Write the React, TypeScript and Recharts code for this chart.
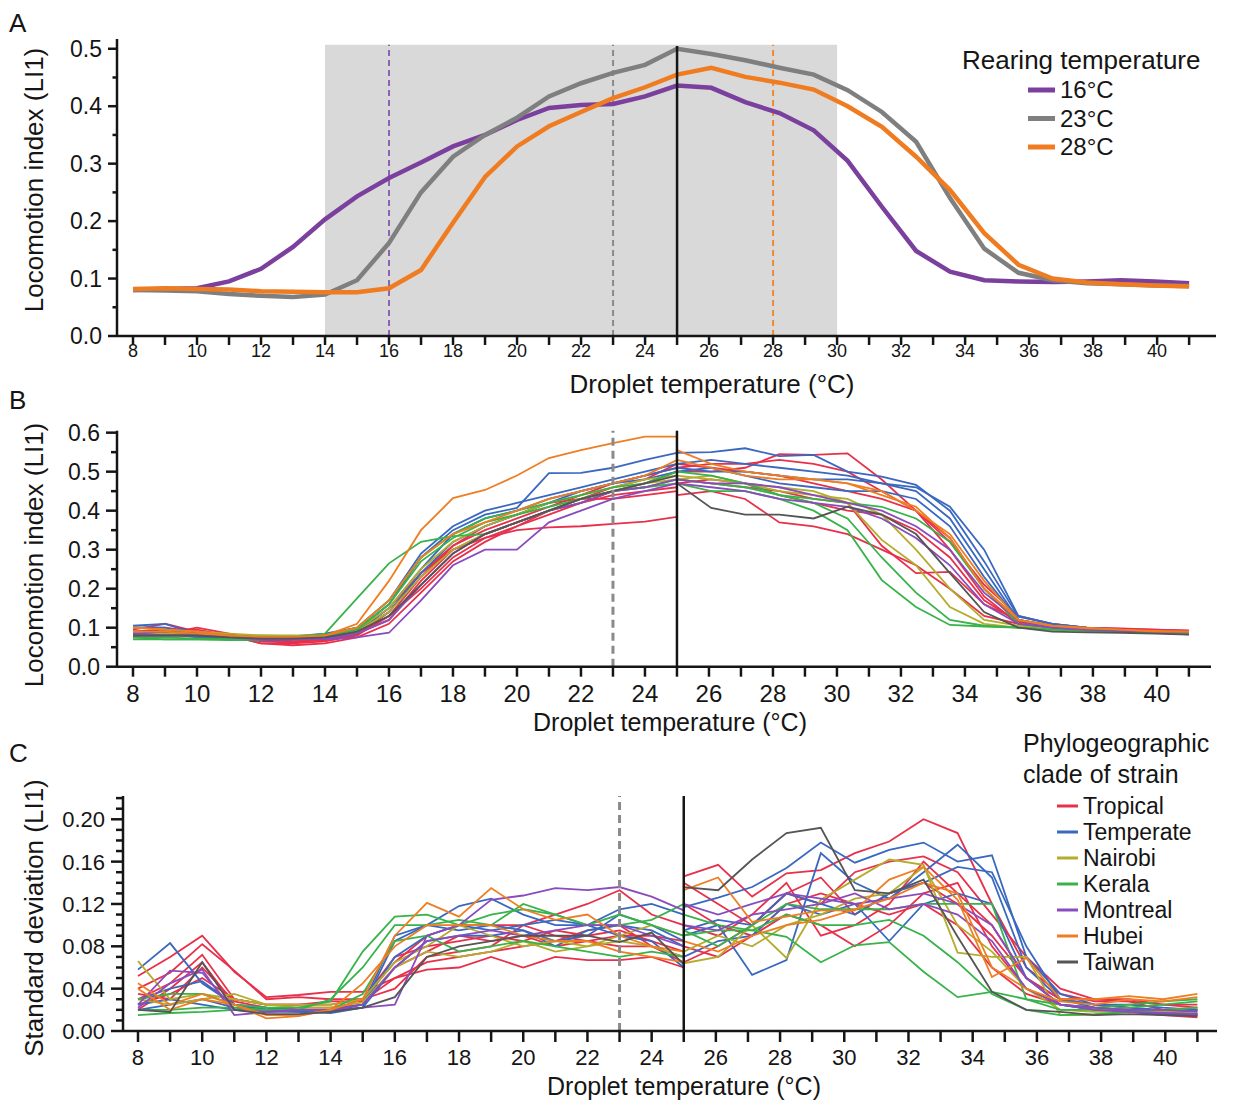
import React from "react";
import { LineChart, Line, XAxis, YAxis, ReferenceLine, ReferenceArea } from "recharts";

const FONT = '"Liberation Sans", Arial, Helvetica, sans-serif';
const INK = "#151515";

// ---- Panel A: mean LI1 per rearing temperature ----
const TEMPS = [
  8, 9, 10, 11, 12, 13, 14, 15, 16, 17, 18, 19, 20, 21, 22, 23, 24, 25,
  26.07, 27.13, 28.2, 29.27, 30.33, 31.4, 32.47, 33.53, 34.6, 35.67, 36.73, 37.8, 38.87, 39.93, 41,
];
const LI_16C = [
  0.08, 0.082, 0.083, 0.095, 0.117, 0.155, 0.203, 0.243, 0.275, 0.302, 0.33, 0.35, 0.376, 0.397, 0.402, 0.404, 0.417, 0.436,
  0.432, 0.407, 0.388, 0.358, 0.305, 0.225, 0.148, 0.112, 0.097, 0.095, 0.094, 0.095, 0.097, 0.095, 0.092,
];
const LI_23C = [
  0.08, 0.079, 0.078, 0.073, 0.07, 0.068, 0.072, 0.097, 0.162, 0.25, 0.312, 0.35, 0.38, 0.417, 0.44, 0.458, 0.472, 0.5,
  0.491, 0.48, 0.467, 0.455, 0.428, 0.39, 0.338, 0.24, 0.152, 0.11, 0.097, 0.092, 0.09, 0.088, 0.087,
];
const LI_28C = [
  0.082, 0.083, 0.082, 0.081, 0.078, 0.077, 0.076, 0.076, 0.083, 0.115, 0.197, 0.277, 0.33, 0.365, 0.39, 0.414, 0.433, 0.455,
  0.467, 0.451, 0.441, 0.429, 0.4, 0.364, 0.312, 0.254, 0.179, 0.124, 0.1, 0.093, 0.09, 0.088, 0.086,
];
const REARING = [
  { name: "16°C", color: "#7b3f9e", key: "r16" },
  { name: "23°C", color: "#7f7f7f", key: "r23" },
  { name: "28°C", color: "#f07c21", key: "r28" },
];

// ---- Panels B and C: per strain, cooling run (8-25) and warming run (25-41) ----
const COOL_T = [8, 9, 10, 11, 12, 13, 14, 15, 16, 17, 18, 19, 20, 21, 22, 23, 24, 25];
const WARM_T = [25, 26.07, 27.13, 28.2, 29.27, 30.33, 31.4, 32.47, 33.53, 34.6, 35.67, 36.73, 37.8, 38.87, 39.93, 41];

const CLADES = [
  { name: "Tropical", color: "#e8304b" },
  { name: "Temperate", color: "#3a68c0" },
  { name: "Nairobi", color: "#b3ac2c" },
  { name: "Kerala", color: "#38b349" },
  { name: "Montreal", color: "#8a4cbc" },
  { name: "Hubei", color: "#ef7e22" },
  { name: "Taiwan", color: "#555555" },
];
// clade index of each strain, same order as the rows below
const STRAIN_CLADE = [0, 0, 0, 0, 0, 0, 1, 1, 1, 1, 2, 2, 3, 3, 3, 4, 4, 5, 5, 6];

const LI_COOL = [
  [0.095, 0.11, 0.09, 0.08, 0.06, 0.06, 0.065, 0.08, 0.14, 0.24, 0.31, 0.35, 0.38, 0.41, 0.44, 0.47, 0.49, 0.51],
  [0.09, 0.09, 0.095, 0.08, 0.065, 0.062, 0.07, 0.085, 0.12, 0.22, 0.3, 0.34, 0.37, 0.4, 0.42, 0.45, 0.47, 0.5],
  [0.08, 0.08, 0.08, 0.075, 0.07, 0.07, 0.075, 0.09, 0.15, 0.24, 0.3, 0.33, 0.35, 0.357, 0.36, 0.366, 0.372, 0.384],
  [0.085, 0.085, 0.1, 0.085, 0.07, 0.065, 0.068, 0.08, 0.13, 0.2, 0.28, 0.33, 0.36, 0.39, 0.42, 0.44, 0.45, 0.46],
  [0.1, 0.1, 0.09, 0.08, 0.06, 0.055, 0.06, 0.075, 0.11, 0.19, 0.27, 0.32, 0.36, 0.4, 0.43, 0.46, 0.48, 0.52],
  [0.09, 0.095, 0.085, 0.08, 0.07, 0.065, 0.07, 0.085, 0.13, 0.23, 0.31, 0.36, 0.39, 0.42, 0.43, 0.43, 0.44, 0.45],
  [0.105, 0.11, 0.085, 0.08, 0.075, 0.075, 0.08, 0.095, 0.16, 0.28, 0.35, 0.39, 0.407, 0.496, 0.497, 0.51, 0.53, 0.548],
  [0.1, 0.1, 0.08, 0.075, 0.075, 0.078, 0.085, 0.1, 0.17, 0.29, 0.36, 0.4, 0.42, 0.44, 0.46, 0.48, 0.5, 0.52],
  [0.09, 0.09, 0.08, 0.07, 0.07, 0.07, 0.075, 0.09, 0.15, 0.25, 0.34, 0.38, 0.4, 0.43, 0.45, 0.47, 0.49, 0.51],
  [0.085, 0.085, 0.075, 0.07, 0.068, 0.07, 0.073, 0.09, 0.14, 0.24, 0.32, 0.36, 0.39, 0.42, 0.45, 0.47, 0.48, 0.5],
  [0.1, 0.095, 0.09, 0.085, 0.08, 0.08, 0.08, 0.095, 0.15, 0.25, 0.32, 0.36, 0.39, 0.42, 0.44, 0.46, 0.48, 0.49],
  [0.09, 0.085, 0.085, 0.08, 0.08, 0.078, 0.08, 0.09, 0.14, 0.23, 0.3, 0.34, 0.37, 0.4, 0.43, 0.45, 0.47, 0.48],
  [0.07, 0.07, 0.07, 0.07, 0.07, 0.075, 0.085, 0.175, 0.265, 0.32, 0.335, 0.34, 0.37, 0.4, 0.43, 0.45, 0.46, 0.47],
  [0.075, 0.075, 0.072, 0.07, 0.072, 0.075, 0.08, 0.1, 0.17, 0.28, 0.34, 0.38, 0.4, 0.42, 0.44, 0.46, 0.47, 0.5],
  [0.075, 0.07, 0.07, 0.068, 0.07, 0.073, 0.078, 0.095, 0.16, 0.27, 0.33, 0.37, 0.39, 0.41, 0.43, 0.45, 0.46, 0.48],
  [0.085, 0.09, 0.085, 0.08, 0.075, 0.075, 0.07, 0.075, 0.087, 0.17, 0.26, 0.3, 0.3, 0.37, 0.4, 0.43, 0.45, 0.47],
  [0.08, 0.08, 0.08, 0.075, 0.07, 0.07, 0.072, 0.085, 0.12, 0.21, 0.29, 0.34, 0.37, 0.4, 0.42, 0.45, 0.46, 0.48],
  [0.1, 0.095, 0.09, 0.08, 0.075, 0.075, 0.08, 0.11, 0.22, 0.35, 0.432, 0.453, 0.49, 0.535, 0.555, 0.573, 0.59, 0.59],
  [0.09, 0.09, 0.085, 0.08, 0.075, 0.075, 0.08, 0.1, 0.17, 0.28, 0.34, 0.37, 0.4, 0.43, 0.45, 0.47, 0.49, 0.53],
  [0.08, 0.08, 0.08, 0.075, 0.072, 0.072, 0.075, 0.09, 0.13, 0.21, 0.29, 0.34, 0.37, 0.4, 0.43, 0.45, 0.47, 0.49],
];
const LI_WARM = [
  [0.51, 0.52, 0.52, 0.53, 0.52, 0.5, 0.45, 0.4, 0.33, 0.2, 0.12, 0.105, 0.1, 0.098, 0.095, 0.093],
  [0.5, 0.5, 0.51, 0.545, 0.543, 0.547, 0.48, 0.4, 0.3, 0.18, 0.11, 0.1, 0.095, 0.095, 0.09, 0.09],
  [0.44, 0.45, 0.43, 0.37, 0.36, 0.34, 0.3, 0.26, 0.2, 0.13, 0.11, 0.1, 0.095, 0.092, 0.09, 0.088],
  [0.48, 0.47, 0.46, 0.45, 0.43, 0.42, 0.31, 0.24, 0.243, 0.16, 0.12, 0.1, 0.095, 0.095, 0.09, 0.09],
  [0.52, 0.51, 0.5, 0.49, 0.47, 0.45, 0.43, 0.4, 0.32, 0.21, 0.13, 0.11, 0.1, 0.097, 0.095, 0.092],
  [0.47, 0.48, 0.47, 0.44, 0.42, 0.4, 0.39, 0.35, 0.28, 0.17, 0.115, 0.1, 0.095, 0.093, 0.09, 0.09],
  [0.548, 0.55, 0.56, 0.54, 0.543, 0.5, 0.487, 0.466, 0.4, 0.27, 0.128, 0.11, 0.1, 0.095, 0.09, 0.088],
  [0.52, 0.53, 0.52, 0.51, 0.5, 0.49, 0.47, 0.46, 0.41, 0.3, 0.13, 0.11, 0.1, 0.094, 0.09, 0.085],
  [0.51, 0.5, 0.5, 0.49, 0.48, 0.48, 0.47, 0.45, 0.38, 0.25, 0.12, 0.105, 0.097, 0.093, 0.088, 0.085],
  [0.5, 0.51, 0.49, 0.47, 0.46, 0.45, 0.45, 0.43, 0.36, 0.23, 0.12, 0.1, 0.095, 0.09, 0.087, 0.083],
  [0.49, 0.48, 0.47, 0.46, 0.45, 0.42, 0.325, 0.26, 0.153, 0.11, 0.1, 0.095, 0.093, 0.09, 0.09, 0.088],
  [0.48, 0.49, 0.47, 0.45, 0.44, 0.43, 0.39, 0.3, 0.2, 0.12, 0.105, 0.095, 0.092, 0.09, 0.088, 0.088],
  [0.47, 0.45, 0.45, 0.43, 0.4, 0.35, 0.222, 0.153, 0.107, 0.103, 0.1, 0.095, 0.092, 0.09, 0.09, 0.088],
  [0.5, 0.49, 0.47, 0.44, 0.42, 0.38, 0.28, 0.19, 0.12, 0.105, 0.1, 0.095, 0.093, 0.09, 0.088, 0.087],
  [0.48, 0.47, 0.46, 0.44, 0.43, 0.42, 0.41, 0.38, 0.32, 0.2, 0.11, 0.1, 0.095, 0.092, 0.09, 0.088],
  [0.47, 0.46, 0.45, 0.43, 0.42, 0.41, 0.38, 0.33, 0.26, 0.16, 0.11, 0.1, 0.095, 0.092, 0.09, 0.088],
  [0.48, 0.47, 0.47, 0.46, 0.44, 0.42, 0.4, 0.36, 0.3, 0.19, 0.12, 0.1, 0.095, 0.093, 0.09, 0.09],
  [0.555, 0.52, 0.5, 0.49, 0.48, 0.47, 0.45, 0.4, 0.34, 0.22, 0.12, 0.105, 0.1, 0.095, 0.092, 0.09],
  [0.53, 0.51, 0.49, 0.48, 0.48, 0.47, 0.44, 0.41, 0.33, 0.2, 0.12, 0.105, 0.098, 0.095, 0.09, 0.09],
  [0.47, 0.407, 0.39, 0.39, 0.38, 0.41, 0.39, 0.34, 0.24, 0.14, 0.1, 0.09, 0.088, 0.087, 0.085, 0.082],
];
const SD_COOL = [
  [0.052, 0.07, 0.09, 0.056, 0.032, 0.034, 0.037, 0.037, 0.05, 0.058, 0.06, 0.07, 0.06, 0.07, 0.067, 0.067, 0.07, 0.06],
  [0.04, 0.055, 0.082, 0.057, 0.03, 0.032, 0.03, 0.03, 0.065, 0.09, 0.1, 0.1, 0.1, 0.11, 0.12, 0.133, 0.11, 0.1],
  [0.03, 0.045, 0.072, 0.03, 0.025, 0.025, 0.025, 0.03, 0.07, 0.08, 0.085, 0.09, 0.085, 0.095, 0.09, 0.095, 0.085, 0.075],
  [0.02, 0.04, 0.065, 0.025, 0.02, 0.022, 0.022, 0.025, 0.06, 0.075, 0.09, 0.085, 0.09, 0.08, 0.085, 0.08, 0.08, 0.07],
  [0.035, 0.03, 0.06, 0.028, 0.022, 0.02, 0.02, 0.03, 0.04, 0.07, 0.075, 0.08, 0.1, 0.09, 0.085, 0.09, 0.09, 0.085],
  [0.025, 0.035, 0.05, 0.03, 0.025, 0.025, 0.028, 0.028, 0.05, 0.065, 0.07, 0.075, 0.08, 0.085, 0.095, 0.1, 0.08, 0.065],
  [0.058, 0.083, 0.045, 0.025, 0.022, 0.02, 0.018, 0.025, 0.09, 0.1, 0.118, 0.125, 0.11, 0.1, 0.1, 0.115, 0.12, 0.11],
  [0.03, 0.04, 0.047, 0.025, 0.02, 0.018, 0.017, 0.022, 0.085, 0.1, 0.095, 0.1, 0.095, 0.085, 0.09, 0.11, 0.1, 0.085],
  [0.02, 0.025, 0.03, 0.022, 0.02, 0.02, 0.02, 0.025, 0.07, 0.09, 0.1, 0.095, 0.1, 0.105, 0.1, 0.09, 0.085, 0.06],
  [0.025, 0.03, 0.025, 0.02, 0.018, 0.018, 0.018, 0.022, 0.06, 0.085, 0.09, 0.09, 0.095, 0.08, 0.095, 0.1, 0.095, 0.08],
  [0.066, 0.03, 0.035, 0.03, 0.025, 0.025, 0.025, 0.03, 0.065, 0.08, 0.1, 0.09, 0.08, 0.085, 0.08, 0.09, 0.1, 0.09],
  [0.03, 0.025, 0.03, 0.035, 0.025, 0.022, 0.022, 0.027, 0.06, 0.075, 0.07, 0.075, 0.085, 0.075, 0.08, 0.085, 0.08, 0.07],
  [0.03, 0.035, 0.035, 0.025, 0.022, 0.022, 0.028, 0.075, 0.108, 0.11, 0.1, 0.11, 0.115, 0.11, 0.1, 0.11, 0.1, 0.09],
  [0.02, 0.02, 0.022, 0.022, 0.02, 0.02, 0.03, 0.06, 0.1, 0.1, 0.105, 0.1, 0.12, 0.11, 0.1, 0.1, 0.105, 0.12],
  [0.015, 0.017, 0.018, 0.02, 0.02, 0.02, 0.02, 0.035, 0.085, 0.09, 0.075, 0.08, 0.085, 0.08, 0.075, 0.07, 0.075, 0.07],
  [0.025, 0.057, 0.055, 0.02, 0.018, 0.02, 0.02, 0.022, 0.025, 0.09, 0.1, 0.124, 0.128, 0.135, 0.133, 0.136, 0.127, 0.114],
  [0.022, 0.045, 0.058, 0.015, 0.018, 0.02, 0.02, 0.025, 0.06, 0.085, 0.09, 0.095, 0.09, 0.095, 0.1, 0.1, 0.09, 0.08],
  [0.045, 0.025, 0.035, 0.025, 0.012, 0.014, 0.02, 0.03, 0.09, 0.121, 0.108, 0.135, 0.115, 0.105, 0.11, 0.09, 0.08, 0.075],
  [0.04, 0.02, 0.03, 0.025, 0.015, 0.015, 0.02, 0.045, 0.08, 0.1, 0.1, 0.1, 0.09, 0.085, 0.085, 0.075, 0.07, 0.065],
  [0.02, 0.018, 0.065, 0.02, 0.016, 0.016, 0.018, 0.022, 0.032, 0.07, 0.08, 0.085, 0.09, 0.09, 0.09, 0.084, 0.093, 0.063],
];
const SD_WARM = [
  [0.146, 0.157, 0.127, 0.149, 0.152, 0.168, 0.179, 0.2, 0.187, 0.12, 0.06, 0.035, 0.028, 0.028, 0.02, 0.02],
  [0.14, 0.12, 0.1, 0.13, 0.12, 0.15, 0.16, 0.165, 0.15, 0.11, 0.07, 0.04, 0.03, 0.03, 0.025, 0.025],
  [0.1, 0.09, 0.11, 0.14, 0.09, 0.1, 0.12, 0.16, 0.13, 0.1, 0.05, 0.03, 0.025, 0.022, 0.018, 0.015],
  [0.065, 0.08, 0.1, 0.13, 0.145, 0.11, 0.13, 0.14, 0.12, 0.09, 0.05, 0.03, 0.03, 0.028, 0.025, 0.022],
  [0.08, 0.07, 0.09, 0.11, 0.1, 0.08, 0.1, 0.13, 0.14, 0.08, 0.04, 0.025, 0.02, 0.018, 0.015, 0.013],
  [0.12, 0.1, 0.09, 0.12, 0.13, 0.12, 0.11, 0.12, 0.1, 0.06, 0.035, 0.025, 0.022, 0.02, 0.018, 0.016],
  [0.117, 0.126, 0.136, 0.154, 0.178, 0.159, 0.171, 0.178, 0.16, 0.166, 0.07, 0.035, 0.025, 0.025, 0.022, 0.02],
  [0.09, 0.1, 0.053, 0.067, 0.168, 0.14, 0.125, 0.15, 0.176, 0.145, 0.06, 0.03, 0.025, 0.022, 0.02, 0.02],
  [0.095, 0.105, 0.1, 0.13, 0.12, 0.11, 0.13, 0.14, 0.155, 0.15, 0.08, 0.03, 0.022, 0.02, 0.018, 0.016],
  [0.07, 0.085, 0.09, 0.12, 0.11, 0.12, 0.085, 0.12, 0.13, 0.12, 0.05, 0.025, 0.02, 0.018, 0.016, 0.015],
  [0.064, 0.07, 0.1, 0.069, 0.124, 0.143, 0.162, 0.157, 0.074, 0.07, 0.07, 0.015, 0.015, 0.018, 0.02, 0.022],
  [0.075, 0.09, 0.08, 0.1, 0.11, 0.125, 0.13, 0.155, 0.1, 0.075, 0.04, 0.02, 0.018, 0.018, 0.018, 0.018],
  [0.09, 0.095, 0.095, 0.089, 0.065, 0.081, 0.084, 0.056, 0.032, 0.037, 0.03, 0.025, 0.022, 0.025, 0.028, 0.03],
  [0.095, 0.08, 0.1, 0.12, 0.115, 0.115, 0.115, 0.12, 0.12, 0.12, 0.03, 0.02, 0.02, 0.022, 0.025, 0.028],
  [0.11, 0.1, 0.095, 0.11, 0.1, 0.1, 0.105, 0.09, 0.065, 0.035, 0.02, 0.015, 0.016, 0.018, 0.02, 0.022],
  [0.12, 0.11, 0.12, 0.13, 0.125, 0.12, 0.125, 0.13, 0.12, 0.1, 0.05, 0.025, 0.022, 0.02, 0.02, 0.018],
  [0.1, 0.095, 0.11, 0.115, 0.12, 0.13, 0.115, 0.12, 0.11, 0.085, 0.04, 0.025, 0.02, 0.018, 0.017, 0.016],
  [0.133, 0.145, 0.103, 0.108, 0.114, 0.114, 0.143, 0.155, 0.124, 0.051, 0.069, 0.03, 0.03, 0.033, 0.03, 0.035],
  [0.085, 0.075, 0.09, 0.1, 0.105, 0.115, 0.125, 0.14, 0.13, 0.06, 0.04, 0.028, 0.025, 0.03, 0.028, 0.032],
  [0.136, 0.133, 0.162, 0.187, 0.192, 0.133, 0.13, 0.143, 0.089, 0.037, 0.02, 0.018, 0.015, 0.016, 0.015, 0.014],
];

const X_TICKS = [8, 9, 10, 11, 12, 13, 14, 15, 16, 17, 18, 19, 20, 21, 22, 23, 24, 25, 26, 27, 28, 29, 30, 31, 32, 33, 34, 35, 36, 37, 38, 39, 40, 41];
const Y_TICKS_A = [0, 0.05, 0.1, 0.15, 0.2, 0.25, 0.3, 0.35, 0.4, 0.45, 0.5];
const Y_TICKS_B = [0, 0.05, 0.1, 0.15, 0.2, 0.25, 0.3, 0.35, 0.4, 0.45, 0.5, 0.55, 0.6];
const Y_TICKS_C = [0, 0.01, 0.02, 0.03, 0.04, 0.05, 0.06, 0.07, 0.08, 0.09, 0.1, 0.11, 0.12, 0.13, 0.14, 0.15, 0.16, 0.17, 0.18, 0.19, 0.2, 0.21, 0.22];

// one row per temperature; cooling keys c0.., warming keys w0..
function strainRows(cool: number[][], warm: number[][]) {
  const rows = new Map<number, Record<string, number>>();
  COOL_T.forEach((t, i) => {
    const r = rows.get(t) ?? { t };
    cool.forEach((s, k) => (r[`c${k}`] = s[i]));
    rows.set(t, r);
  });
  WARM_T.forEach((t, i) => {
    const r = rows.get(t) ?? { t };
    warm.forEach((s, k) => (r[`w${k}`] = s[i]));
    rows.set(t, r);
  });
  return [...rows.values()].sort((a, b) => a.t - b.t);
}

function makeXTick(len: number, fontSize: number, baseline: number) {
  return (props: any) => {
    const { x, y, payload } = props;
    const v = payload.value as number;
    return (
      <g>
        <line x1={x} x2={x} y1={y} y2={y + len} stroke={INK} strokeWidth={2.5} />
        {v % 2 === 0 && v <= 40 ? (
          <text x={x} y={y + baseline} textAnchor="middle" fontSize={fontSize} fill={INK} fontFamily={FONT}>
            {v}
          </text>
        ) : null}
      </g>
    );
  };
}

function makeYTick(major: number, minor: number, fontSize: number, step: number, digits: number) {
  return (props: any) => {
    const { x, y, payload } = props;
    const v = payload.value as number;
    const isMajor = Math.round(v * 100) % step === 0;
    return (
      <g>
        <line x1={x - (isMajor ? major : minor)} x2={x} y1={y} y2={y} stroke={INK} strokeWidth={2.5} />
        {isMajor ? (
          <text x={x - major - 6} y={y} dy="0.36em" textAnchor="end" fontSize={fontSize} fill={INK} fontFamily={FONT}>
            {v.toFixed(digits)}
          </text>
        ) : null}
      </g>
    );
  };
}

const axisLine = { stroke: INK, strokeWidth: 2.5 };

function PanelA() {
  const data = TEMPS.map((t, i) => ({ t, r16: LI_16C[i], r23: LI_23C[i], r28: LI_28C[i] }));
  return (
    <LineChart width={1234} height={400} data={data} margin={{ top: 39, right: 18, bottom: 0, left: 57 }}>
      <ReferenceArea x1={14} x2={30} y1={0} y2={0.507} fill="#d9d9d9" fillOpacity={1} stroke="none" />
      <ReferenceLine segment={[{ x: 16, y: 0 }, { x: 16, y: 0.507 }]} stroke="#8d62b6" strokeWidth={2} strokeDasharray="6 4" />
      <ReferenceLine segment={[{ x: 23, y: 0 }, { x: 23, y: 0.507 }]} stroke="#8a8a8a" strokeWidth={2} strokeDasharray="6 4" />
      <ReferenceLine segment={[{ x: 28, y: 0 }, { x: 28, y: 0.507 }]} stroke="#f08a32" strokeWidth={2} strokeDasharray="6 4" />
      <XAxis dataKey="t" type="number" domain={[7.5, 41.84]} ticks={X_TICKS} interval={0} tickSize={0} tickMargin={0}
        tickLine={false} axisLine={axisLine} height={64} tick={makeXTick(9, 18, 21)} />
      <YAxis type="number" domain={[0, 0.517]} ticks={Y_TICKS_A} interval={0} tickSize={0} tickMargin={0}
        tickLine={false} axisLine={axisLine} width={60} tick={makeYTick(9, 4.5, 23, 10, 1)} />
      {REARING.map((r) => (
        <Line key={r.key} dataKey={r.key} stroke={r.color} strokeWidth={4.5} dot={false} type="linear" isAnimationActive={false} />
      ))}
      <ReferenceLine segment={[{ x: 25, y: 0 }, { x: 25, y: 0.505 }]} stroke={INK} strokeWidth={2.5} />
    </LineChart>
  );
}

function strainSeries(n: number) {
  const out: React.ReactNode[] = [];
  for (let k = 0; k < n; k++) {
    const color = CLADES[STRAIN_CLADE[k]].color;
    out.push(
      <Line key={`c${k}`} dataKey={`c${k}`} stroke={color} strokeWidth={1.8} dot={false} type="linear" isAnimationActive={false} />,
      <Line key={`w${k}`} dataKey={`w${k}`} stroke={color} strokeWidth={1.8} dot={false} type="linear" isAnimationActive={false} />
    );
  }
  return out;
}

function PanelB() {
  const data = strainRows(LI_COOL, LI_WARM);
  return (
    <LineChart width={1234} height={340} data={data} margin={{ top: 40.7, right: 23, bottom: 0, left: 57 }}>
      <XAxis dataKey="t" type="number" domain={[7.5, 41.69]} ticks={X_TICKS} interval={0} tickSize={0} tickMargin={0}
        tickLine={false} axisLine={axisLine} height={63.3} tick={makeXTick(10, 24, 35)} />
      <YAxis type="number" domain={[0, 0.605]} ticks={Y_TICKS_B} interval={0} tickSize={0} tickMargin={0}
        tickLine={false} axisLine={axisLine} width={60} tick={makeYTick(11, 6, 23, 10, 1)} />
      {strainSeries(LI_COOL.length)}
      <ReferenceLine x={23} stroke="#8a8a8a" strokeWidth={3} strokeDasharray="8 5" />
      <ReferenceLine x={25} stroke={INK} strokeWidth={2.5} />
    </LineChart>
  );
}

function PanelC() {
  const data = strainRows(SD_COOL, SD_WARM);
  return (
    <LineChart width={1234} height={352} data={data} margin={{ top: 46, right: 17, bottom: 0, left: 63 }}>
      <XAxis dataKey="t" type="number" domain={[7.533, 41.61]} ticks={X_TICKS} interval={0} tickSize={0} tickMargin={0}
        tickLine={false} axisLine={axisLine} height={71} tick={makeXTick(11, 22, 34)} />
      <YAxis type="number" domain={[0, 0.222]} ticks={Y_TICKS_C} interval={0} tickSize={0} tickMargin={0}
        tickLine={false} axisLine={axisLine} width={60} tick={makeYTick(12, 7, 22, 4, 2)} />
      {strainSeries(SD_COOL.length)}
      <ReferenceLine x={23} stroke="#8a8a8a" strokeWidth={3} strokeDasharray="8 5" />
      <ReferenceLine x={25} stroke={INK} strokeWidth={2.5} />
    </LineChart>
  );
}

function Labels() {
  const t = { fontFamily: FONT, fill: INK };
  const yTitle = (x: number, y: number, s: string) => (
    <text x={x} y={y} transform={`rotate(-90 ${x} ${y})`} textAnchor="middle" fontSize={26} {...t}>{s}</text>
  );
  return (
    <svg width={1234} height={1102} style={{ position: "absolute", left: 0, top: 0, pointerEvents: "none" }}>
      <text x={9} y={32} fontSize={26} {...t}>A</text>
      <text x={9} y={409} fontSize={26} {...t}>B</text>
      <text x={9} y={762} fontSize={26} {...t}>C</text>

      {yTitle(43, 180, "Locomotion index (LI1)")}
      {yTitle(43, 555, "Locomotion index (LI1)")}
      {yTitle(43, 918, "Standard deviation (LI1)")}

      <text x={712} y={393} textAnchor="middle" fontSize={26} {...t}>Droplet temperature (°C)</text>
      <text x={670} y={731} textAnchor="middle" fontSize={25} {...t}>Droplet temperature (°C)</text>
      <text x={684} y={1095} textAnchor="middle" fontSize={25} {...t}>Droplet temperature (°C)</text>

      <text x={962} y={69} fontSize={26} {...t}>Rearing temperature</text>
      {REARING.map((r, i) => (
        <g key={r.key}>
          <line x1={1028} x2={1055} y1={90 + i * 28.5} y2={90 + i * 28.5} stroke={r.color} strokeWidth={5} />
          <text x={1060} y={98 + i * 28.5} fontSize={24} {...t}>{r.name}</text>
        </g>
      ))}

      <text x={1023} y={752} fontSize={25} {...t}>Phylogeographic</text>
      <text x={1023} y={783} fontSize={25} {...t}>clade of strain</text>
      {CLADES.map((c, i) => (
        <g key={c.name}>
          <line x1={1057} x2={1078} y1={806 + i * 26} y2={806 + i * 26} stroke={c.color} strokeWidth={3} />
          <text x={1083} y={814 + i * 26} fontSize={23} {...t}>{c.name}</text>
        </g>
      ))}
    </svg>
  );
}

export default function App() {
  return (
    <div style={{ position: "absolute", left: 0, top: 0, width: 1234, height: 1102, background: "#fff", fontFamily: FONT }}>
      <div style={{ position: "absolute", left: 0, top: 0 }}>
        <PanelA />
      </div>
      <div style={{ position: "absolute", left: 0, top: 390 }}>
        <PanelB />
      </div>
      <div style={{ position: "absolute", left: 0, top: 750 }}>
        <PanelC />
      </div>
      <Labels />
    </div>
  );
}
